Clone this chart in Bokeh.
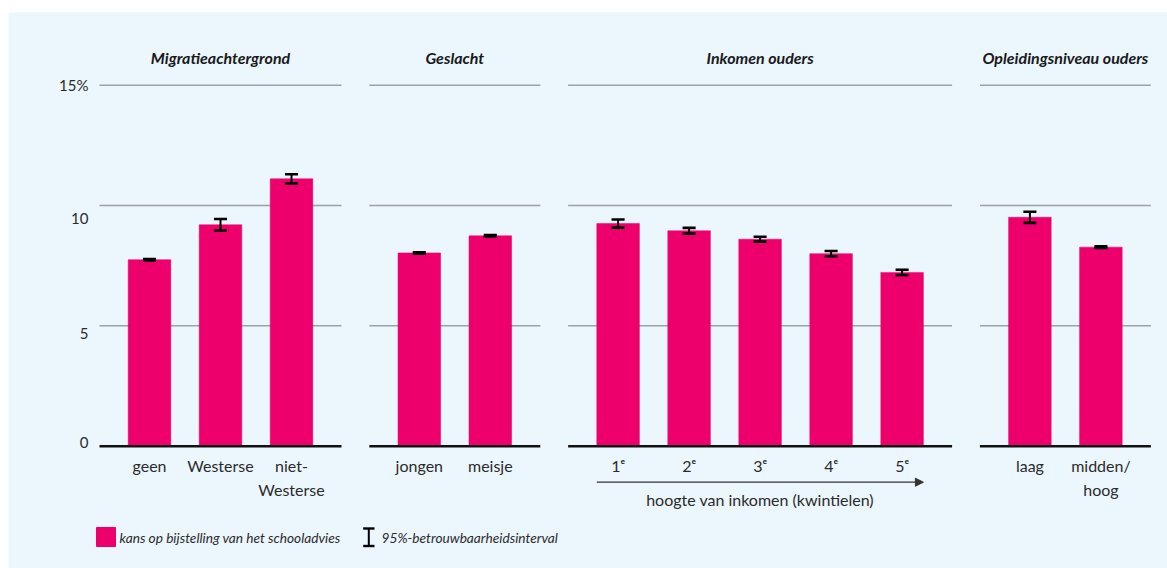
from bokeh.plotting import figure
from bokeh.models import Range1d, ColumnDataSource, Arrow, NormalHead, Spacer
from bokeh.layouts import column, row
from bokeh.embed import file_html
from bokeh.resources import INLINE
from bokeh.core.properties import value

# ---------------- data ----------------
panel_titles = ["Migratieachtergrond", "Geslacht", "Inkomen ouders", "Opleidingsniveau ouders"]

cat_migratie = ["geen", "Westerse", "niet-\nWesterse"]
val_migratie = [7.75, 9.20, 11.11]
ci_migratie = [0.03, 0.24, 0.19]

cat_geslacht = ["jongen", "meisje"]
val_geslacht = [8.03, 8.74]
ci_geslacht = [0.03, 0.03]

cat_inkomen = ["1\u1d49", "2\u1d49", "3\u1d49", "4\u1d49", "5\u1d49"]
val_inkomen = [9.25, 8.95, 8.60, 8.00, 7.22]
ci_inkomen = [0.17, 0.12, 0.10, 0.11, 0.11]

cat_opleiding = ["laag", "midden/\nhoog"]
val_opleiding = [9.51, 8.27]
ci_opleiding = [0.23, 0.03]

y_ticks = [0, 5, 10, 15]
y_tick_labels = ["0", "5", "10", "15%"]

inkomen_axis_label = "hoogte van inkomen (kwintielen)"
legend_bar_label = "kans op bijstelling van het schooladvies"
legend_ci_label = "95%-betrouwbaarheidsinterval"

# ---------------- style / layout ----------------
BG = "#EBF6FD"
PINK = "#ED006B"
GRID = "#9DA1A4"
TXT = "#2B2B2B"
FONT = value("Lato")

LEFT_X, TOP_Y = 8, 12        # screen position of the figure
W, H = 1159, 556
SLOT = 71.0          # px per category slot
ORIGIN_X = 113.5     # screen x of synthetic 0
ZERO_Y = 445.7       # screen y of value 0
PXU = 24.07          # px per percentage point

def X(sx):
    return (sx - ORIGIN_X) / SLOT

def Y(sy):
    return (ZERO_Y - sy) / PXU

x_range = Range1d(X(LEFT_X), X(LEFT_X + W))
y_range = Range1d(Y(TOP_Y + H), Y(TOP_Y))

p = figure(width=W, height=H, x_range=x_range, y_range=y_range,
           output_backend="svg", toolbar_location=None,
           x_axis_location=None, y_axis_location=None,
           min_border=0, outline_line_color=None,
           background_fill_color=BG, border_fill_color=BG)
p.xgrid.visible = False
p.ygrid.visible = False

groups = [
    (panel_titles[0], cat_migratie, val_migratie, ci_migratie),
    (panel_titles[1], cat_geslacht, val_geslacht, ci_geslacht),
    (panel_titles[2], cat_inkomen, val_inkomen, ci_inkomen),
    (panel_titles[3], cat_opleiding, val_opleiding, ci_opleiding),
]

GAP = 0.8
EXT = 0.204
BAR_W = 0.6
CAP = 0.092

xs, tops, los, his, labels = [], [], [], [], []
spans = []
group_xs = []
cursor = 0.0
for name, cats, vals, cis in groups:
    gx = []
    for i, (c, v, e) in enumerate(zip(cats, vals, cis)):
        x = cursor + i + 0.5
        xs.append(x); tops.append(v); los.append(v - e); his.append(v + e); labels.append(c)
        gx.append(x)
    group_xs.append(gx)
    spans.append((cursor - EXT, cursor + len(cats) + EXT, name))
    cursor += len(cats) + GAP

src = ColumnDataSource(dict(x=xs, top=tops, lo=los, hi=his, label=labels,
                            cl=[x - CAP for x in xs], cr=[x + CAP for x in xs]))

# gridlines per panel
gx0, gx1, gy = [], [], []
for s0, s1, _ in spans:
    for t in y_ticks[1:]:
        gx0.append(s0); gx1.append(s1); gy.append(t)
p.segment(x0=gx0, y0=gy, x1=gx1, y1=gy, line_color=GRID, line_width=1.5)

# bars
p.vbar(x="x", top="top", bottom=0, width=BAR_W, source=src,
       fill_color=PINK, line_color=PINK, line_width=0.5)

# baselines
p.segment(x0=[s[0] for s in spans], y0=[0]*len(spans), x1=[s[1] for s in spans],
          y1=[0]*len(spans), line_color="#111111", line_width=2.6)

# error bars
p.segment(x0="x", y0="lo", x1="x", y1="hi", source=src, line_color="black", line_width=2)
p.segment(x0="cl", y0="lo", x1="cr", y1="lo", source=src, line_color="black", line_width=2.6)
p.segment(x0="cl", y0="hi", x1="cr", y1="hi", source=src, line_color="black", line_width=2.6)

# panel titles
p.text(x=[(s[0] + s[1]) / 2 for s in spans], y=[Y(57)] * len(spans),
       text=[s[2] for s in spans], text_font=FONT, text_font_style="bold italic",
       text_font_size="16px", text_align="center", text_baseline="middle",
       text_color="#1A1A1A")

# y tick labels (px offsets below gridline)
tick_off_px = [-3.7, 7.3, 12.5, 0.3]
p.text(x=[X(88)] * len(y_ticks), y=[t - o / PXU for t, o in zip(y_ticks, tick_off_px)],
       text=y_tick_labels, text_font=FONT, text_font_size="15px",
       text_align="right", text_baseline="middle", text_color=TXT)

# category labels
p.text(x="x", y=Y(455), text="label", source=src, text_font=FONT,
       text_font_size="16px", text_align="center", text_baseline="top",
       text_color=TXT, text_line_height=1.3)

# arrow under income quintiles
ink = group_xs[2]
p.add_layout(Arrow(x_start=ink[0] - BAR_W / 2, y_start=Y(481.7),
                   x_end=ink[-1] + BAR_W / 2, y_end=Y(481.7),
                   line_color="#333333", line_width=1.2,
                   end=NormalHead(size=8, fill_color="#333333", line_color="#333333")))
p.text(x=[(spans[2][0] + spans[2][1]) / 2], y=[Y(499)], text=[inkomen_axis_label],
       text_font=FONT, text_font_size="16px", text_align="center",
       text_baseline="middle", text_color=TXT)

# legend
p.scatter(x=[X(105.5)], y=[Y(536.5)], marker="square", size=19,
          fill_color=PINK, line_color=PINK)
p.text(x=[X(119)], y=[Y(536.5)], text=[legend_bar_label], text_font=FONT,
       text_font_style="italic", text_font_size="13.7px", text_align="left",
       text_baseline="middle", text_color=TXT)
p.segment(x0=[X(368.3)], y0=[Y(528)], x1=[X(368.3)], y1=[Y(545.5)],
          line_color="black", line_width=2)
p.segment(x0=[X(362.7), X(362.7)], y0=[Y(528), Y(545.5)],
          x1=[X(374), X(374)], y1=[Y(528), Y(545.5)], line_color="black", line_width=2.4)
p.text(x=[X(381)], y=[Y(536.5)], text=[legend_ci_label], text_font=FONT,
       text_font_style="italic", text_font_size="13.7px", text_align="left",
       text_baseline="middle", text_color=TXT)

layout = row(Spacer(width=LEFT_X, height=TOP_Y + H),
             column(Spacer(width=W, height=TOP_Y), p))
open("out.html", "w").write(file_html(layout, INLINE))
